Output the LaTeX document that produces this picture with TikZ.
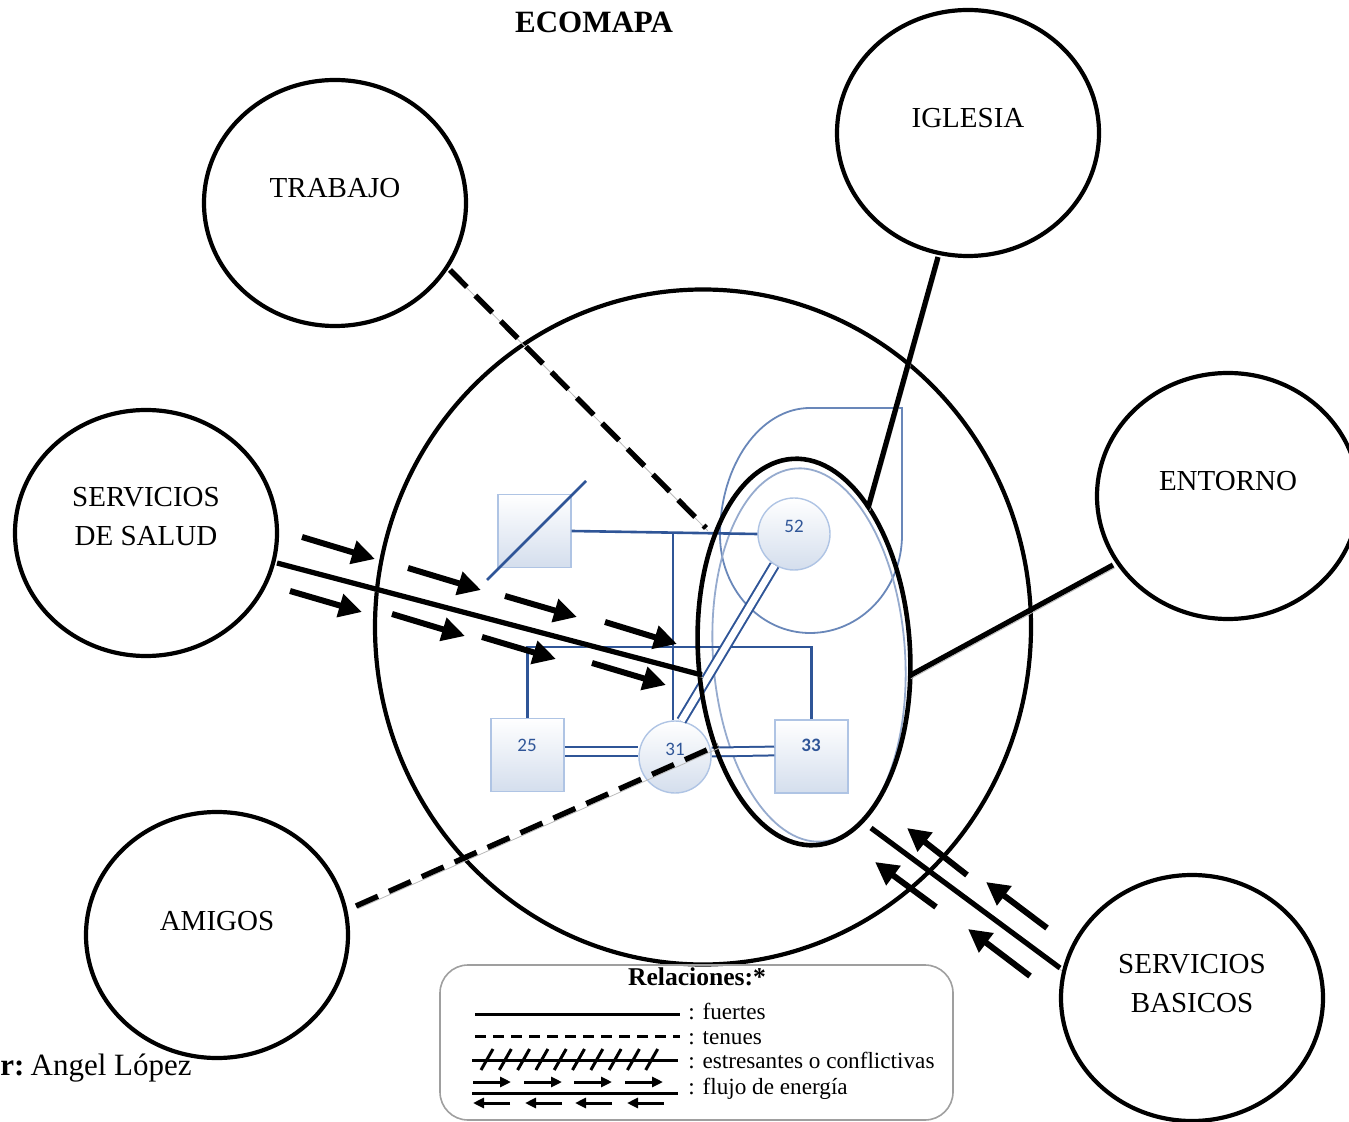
\documentclass[tikz,border=0pt]{standalone}
\usepackage{fontspec}
\setmainfont{Liberation Serif}
\newfontfamily\genfont{Carlito}
\usetikzlibrary{shapes.geometric,arrows.meta}
\definecolor{gblue}{RGB}{47,85,151}
\definecolor{gbord}{RGB}{175,196,228}
\definecolor{gfill}{RGB}{212,222,237}
\definecolor{tblue}{RGB}{105,135,185}
\begin{document}
\begin{tikzpicture}[x=0.5pt,y=-0.5pt,
  eco/.style={draw, ellipse, line width=2.1pt, minimum width=131pt, minimum height=123pt, inner sep=0pt},
  lbl/.style={font=\fontsize{14.5}{19.5}\selectfont, align=center, inner sep=0pt},
  shadowed/.style={preaction={draw=gray!55, transform canvas={shift={(0.9pt,-1.4pt)}}}},
  strong/.style={line width=2.6pt, shadowed},
  weak/.style={line width=2.7pt, dash pattern=on 12pt off 6pt, shadowed},
  flow/.style={line width=3pt, -{Triangle[length=11.5pt,width=11.5pt]}},
  gen/.style={draw=gblue, line width=1.3pt},
  dbl/.style={draw=gblue, line width=1pt, double=white, double distance=3.4pt},
  gnode/.style={draw=gbord, line width=0.7pt, top color=white, bottom color=gfill, inner sep=0pt},
  gnum/.style={font=\genfont\fontsize{9.5}{11}\selectfont, text=gblue, inner sep=0pt},
  lfont/.style={font=\fontsize{11.6}{13}\selectfont, inner sep=0pt, anchor=base west},
  lgl/.style={line width=1.5pt},
  lga/.style={line width=1.5pt, -{Triangle[length=5.5pt,width=5pt]}}
]
\useasboundingbox (0,0) rectangle (1349,1122);

% ---------- title ----------
\node[font=\bfseries\fontsize{15.5}{18}\selectfont, inner sep=0pt] (title) at (594,22) {ECOMAPA};

% ---------- genogram ----------
\draw[tblue, line width=0.9pt] (902,408) -- (902,535)
  arc[start angle=0, end angle=-90, x radius=46pt, y radius=49pt]
  arc[start angle=-90, end angle=-180, x radius=45pt, y radius=49pt]
  arc[start angle=180, end angle=90, x radius=45pt, y radius=63.5pt]
  -- cycle;
\node[draw=tblue!70, line width=0.9pt, ellipse, minimum width=96pt, minimum height=187pt, rotate=4, inner sep=0pt] (hhb) at (809,655) {};

\node[gnode, rectangle, minimum size=36.5pt] (gf) at (534.5,531) {};
\node[gnode, circle, minimum size=36pt] (g52) at (794,534) {};
\node[gnode, rectangle, minimum size=36.5pt] (g25) at (527.5,755) {};
\node[gnode, circle, minimum size=36pt] (g31) at (675,757) {};
\node[gnode, rectangle, minimum size=36.5pt] (g33) at (811.5,756.5) {};
\node[gnum] (n52) at (794,526) {52};
\node[gnum] (n25) at (527,745) {25};
\node[gnum] (n31) at (675,749) {31};
\node[gnum, font=\genfont\bfseries\fontsize{9.5}{11}\selectfont] (n33) at (811,745) {33};

\coordinate (sl1) at (487,580);
\coordinate (sl2) at (586,481);
\draw[gen] (sl1) -- (sl2);
\draw[gen] (gf.east) -- (g52.west);
\coordinate (m1) at (673,532);
\draw[gen] (m1) -- (m1 |- g31.north);
\coordinate (sib) at (673,647);
\draw[gen] (g25.north) |- (sib) -| (g33.north);
\draw[dbl] ([yshift=1.75pt]g25.east) -- ([yshift=2.75pt]g31.west);
\draw[dbl] ([yshift=2.5pt]g31.east) -- ([yshift=2.75pt]g33.west);
\draw[dbl] (g52.-122) -- (g31.80);

% ---------- ecomap ----------
\node[draw, ellipse, line width=2.1pt, minimum width=328pt, minimum height=337.5pt, inner sep=0pt] (fam) at (703,627) {};
\node[draw, ellipse, line width=2.3pt, minimum width=106pt, minimum height=193.5pt, rotate=3.3, inner sep=0pt] (hh) at (804,652) {};

\node[eco] (trabajo) at (335,203) {};
\node[eco] (iglesia) at (968,133) {};
\node[eco] (salud) at (146,533) {};
\node[eco] (entorno) at (1228,496) {};
\node[eco] (amigos) at (217,935) {};
\node[eco] (basicos) at (1192,998) {};

\node[lbl] (ltrabajo) at (335,188) {TRABAJO};
\node[lbl] (liglesia) at (968,118) {IGLESIA};
\node[lbl] (lsalud) at (146,517) {SERVICIOS\\DE SALUD};
\node[lbl] (lentorno) at (1228,481) {ENTORNO};
\node[lbl] (lamigos) at (217,921) {AMIGOS};
\node[lbl] (lbasicos) at (1192,984) {SERVICIOS\\BASICOS};

% connectors
\coordinate (t1) at (450,270);  \coordinate (t2) at (706,528);
\coordinate (i1) at (938,257);  \coordinate (i2) at (868,508);
\coordinate (e1) at (1113,565); \coordinate (e2) at (909,676);
\coordinate (a1) at (356,906);  \coordinate (a2) at (718,745);
\coordinate (s1) at (277,563);  \coordinate (s2) at (702,675);
\coordinate (b1) at (1060,968); \coordinate (b2) at (871,828);

\draw[weak] (t1) -- (t2);
\draw[strong] (i1) -- (i2);
\draw[strong] (e1) -- (e2);
\draw[weak] (a1) -- (a2);
\draw[strong] (s1) -- (s2);
\draw[strong] (b1) -- (b2);

% energy flow arrows (salud -> family)
\foreach \ax/\ay/\bx/\by in {302/537/375/559, 408/568/481/590, 505/596/577/617, 605/622/677/644,
                             290/591/362/612, 392/614/465/636, 482/637/556/659, 592/663/666/685}
  \draw[flow] (\ax,\ay) -- (\bx,\by);
% energy flow arrows (basicos -> family)
\foreach \ax/\ay/\bx/\by in {967/875/907/828, 936/907/875/862, 1047/928/986/882, 1030/976/968/929}
  \draw[flow] (\ax,\ay) -- (\bx,\by);

% ---------- legend ----------
\node[draw=gray!75, line width=0.8pt, rounded corners=14pt, minimum width=256.5pt, minimum height=77.5pt, inner sep=0pt] (leg) at (696.5,1042.5) {};
\node[font=\bfseries\fontsize{12.8}{14}\selectfont, inner sep=0pt] (legt) at (697,977) {Relaciones:*};
\draw[lgl] (475,1014) -- (680,1014);
\draw[lgl, dash pattern=on 5.5pt off 3.5pt] (475,1036) -- (680,1036);
\draw[lgl] (472,1060) -- (678,1060);
\foreach \i in {0,...,9} \draw[lgl] (481+18.3*\i,1070) -- (493+18.3*\i,1049);
\foreach \x in {473,524,574,625} \draw[lga] (\x,1082) -- (\x+38,1082);
\draw[lgl] (472,1093) -- (678,1093);
\foreach \x in {473,525,575,627} \draw[lga] (\x+37,1103) -- (\x,1103);
\node[lfont] (lf1) at (688,1019) {: fuertes};
\node[lfont] (lf2) at (688,1044) {: tenues};
\node[lfont] (lf3) at (688,1068) {: estresantes o conflictivas};
\node[lfont] (lf4) at (688,1094) {: flujo de energía};

% ---------- author ----------
\node[anchor=base west, font=\fontsize{15.5}{18}\selectfont, inner sep=0pt] (auth) at (0,1075) {\textbf{r:}\hspace{0.2em}Angel López};
\end{tikzpicture}
\end{document}
